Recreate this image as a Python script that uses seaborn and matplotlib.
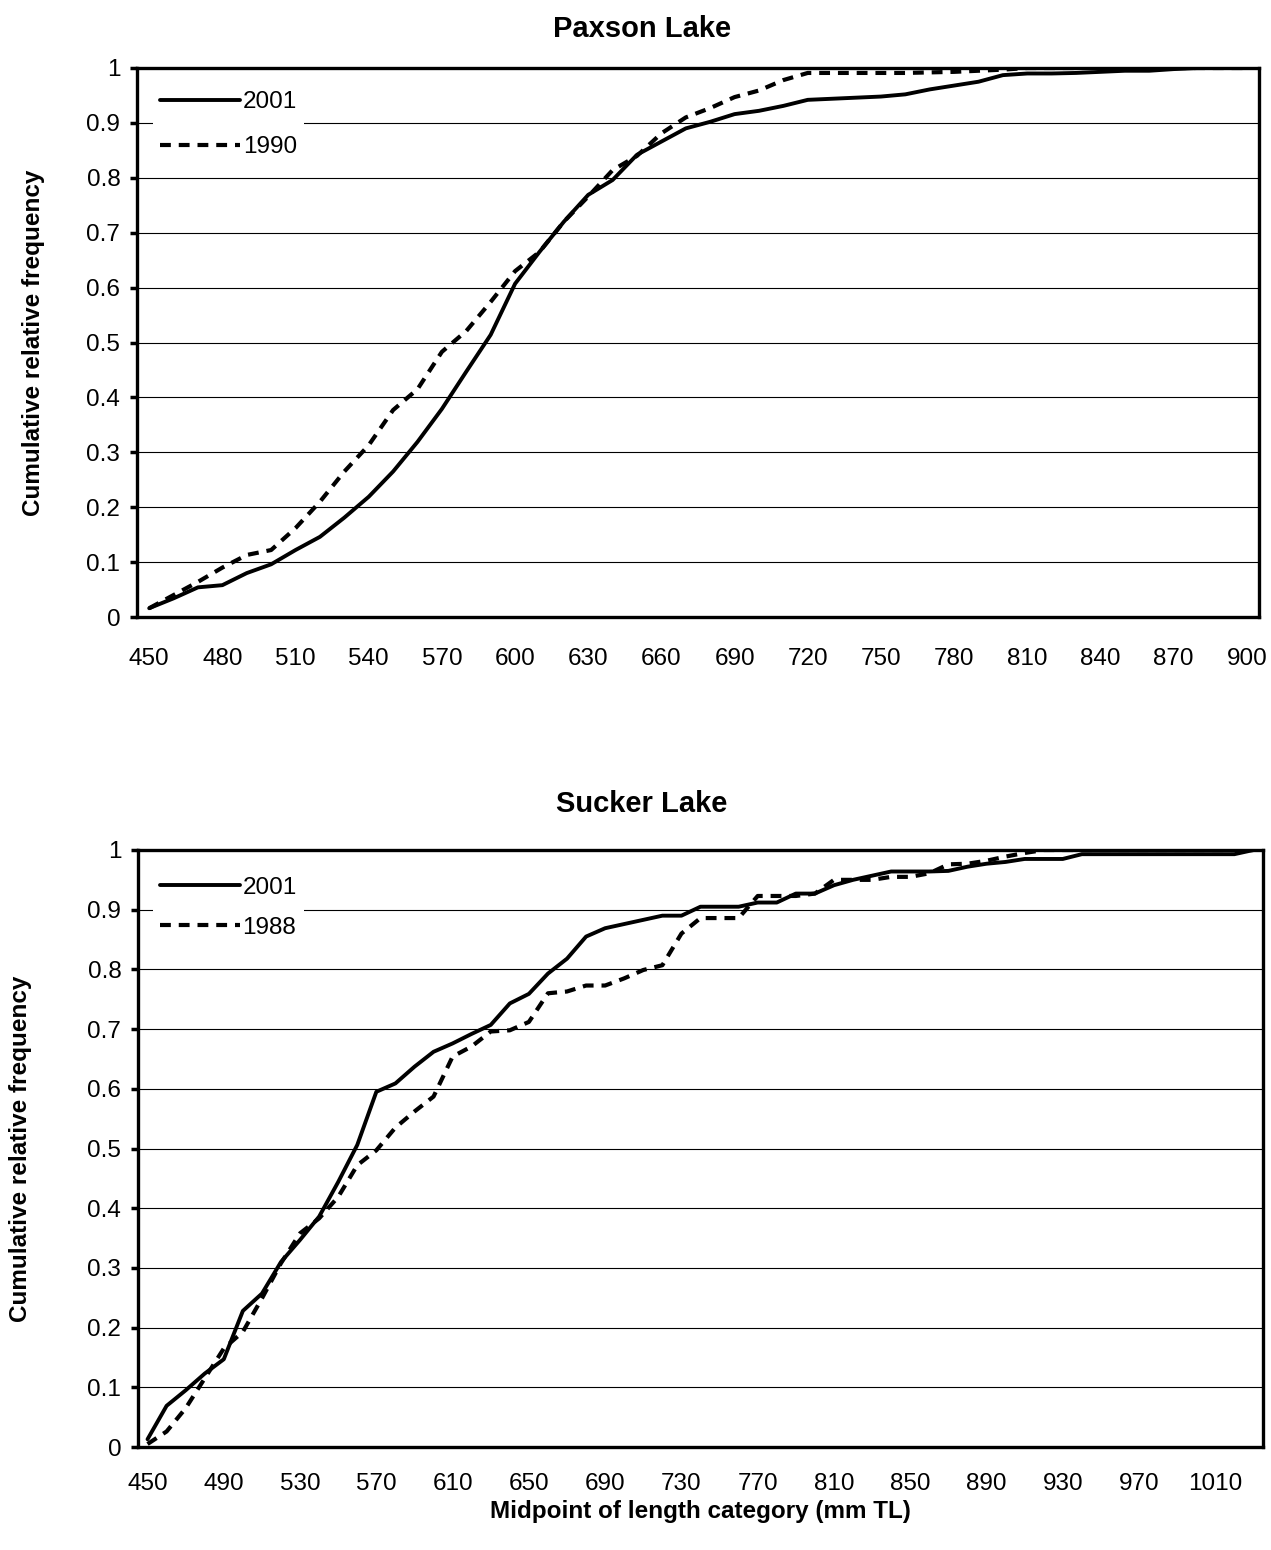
import numpy as np
import pandas as pd
import matplotlib
matplotlib.use("Agg")
import matplotlib.pyplot as plt
import seaborn as sns

# ---------------- data ----------------
paxson_lengths = list(range(450, 901, 10))   # 46 categories
paxson_2001 = [0.016, 0.034, 0.054, 0.058, 0.080, 0.096, 0.122, 0.146, 0.181, 0.219,
               0.265, 0.319, 0.379, 0.447, 0.514, 0.607, 0.665, 0.720, 0.769, 0.796,
               0.842, 0.866, 0.890, 0.902, 0.916, 0.922, 0.931, 0.942, 0.944, 0.946,
               0.948, 0.952, 0.961, 0.968, 0.975, 0.987, 0.990, 0.990, 0.991, 0.993,
               0.995, 0.995, 0.998, 1.000, 1.000, 1.000]
paxson_1990 = [0.016, 0.040, 0.064, 0.090, 0.113, 0.122, 0.162, 0.210, 0.265, 0.313,
               0.377, 0.415, 0.483, 0.521, 0.574, 0.630, 0.665, 0.720, 0.766, 0.814,
               0.840, 0.881, 0.910, 0.927, 0.947, 0.959, 0.978, 0.991, 0.991, 0.991,
               0.991, 0.991, 0.992, 0.993, 0.995, 0.997, 1.000, 1.000, 1.000, 1.000,
               1.000, 1.000, 1.000, 1.000, 1.000, 1.000]

sucker_lengths = list(range(450, 1031, 10))  # 59 categories
sucker_2001 = [0.013, 0.069, 0.095, 0.123, 0.147, 0.228, 0.257, 0.310, 0.347, 0.386,
               0.444, 0.506, 0.595, 0.609, 0.637, 0.662, 0.676, 0.692, 0.707, 0.743,
               0.759, 0.793, 0.818, 0.855, 0.869, 0.876, 0.883, 0.890, 0.890, 0.905,
               0.905, 0.905, 0.912, 0.912, 0.927, 0.927, 0.941, 0.950, 0.957, 0.964,
               0.964, 0.964, 0.965, 0.972, 0.977, 0.980, 0.985, 0.985, 0.985, 0.993,
               0.993, 0.993, 0.993, 0.993, 0.993, 0.993, 0.993, 0.993, 1.000]
sucker_1988 = [0.005, 0.026, 0.065, 0.115, 0.165, 0.193, 0.249, 0.308, 0.358, 0.383,
               0.419, 0.472, 0.497, 0.535, 0.562, 0.587, 0.654, 0.671, 0.696, 0.698,
               0.712, 0.760, 0.763, 0.773, 0.773, 0.785, 0.799, 0.807, 0.860, 0.886,
               0.886, 0.886, 0.923, 0.923, 0.923, 0.927, 0.950, 0.950, 0.950, 0.955,
               0.955, 0.961, 0.976, 0.977, 0.982, 0.989, 0.995, 1.000, 1.000, 1.000,
               1.000, 1.000, 1.000, 1.000, 1.000, 1.000, 1.000, 1.000, 1.000]

titles = ["Paxson Lake", "Sucker Lake"]
ylabel = "Cumulative relative frequency"
xlabel = "Midpoint of length category (mm TL)"

# ---------------- style ----------------
sns.set_style("white")
plt.rcParams['font.family'] = ['Liberation Sans', 'DejaVu Sans']
plt.rcParams['text.color'] = 'black'
plt.rcParams['axes.labelcolor'] = 'black'
plt.rcParams['xtick.color'] = 'black'
plt.rcParams['ytick.color'] = 'black'

W, H = 1271, 1550
fig = plt.figure(figsize=(W / 100, H / 100), dpi=100)

def fx(px):
    return px / W

def fy(py):
    return 1 - py / H

ax1 = fig.add_axes([fx(137), fy(617), fx(1259 - 137), (617 - 68) / H])
ax2 = fig.add_axes([fx(138), fy(1447), fx(1263 - 138), (1447 - 850) / H])

solid_lw = 2.8
dash_lw = 3.0
dash_style = (0, (2.6, 1.9))
TICK_FS = 17.5
LAB_FS = 17.5
TITLE_FS = 21
LEG_FS = 17.5

def draw(ax, lengths, s_new, s_old, old_label, step, title, title_pad, tick_pad,
         ylab_x, leg_spacing, leg_anchor, show_xlabel):
    n = len(lengths)
    idx = np.arange(n)
    df = pd.DataFrame({"idx": np.concatenate([idx, idx]),
                       "val": s_new + s_old,
                       "year": ["2001"] * n + [old_label] * n})
    sns.lineplot(data=df[df.year == "2001"], x="idx", y="val", ax=ax,
                 color="black", linewidth=solid_lw, label="2001")
    sns.lineplot(data=df[df.year == old_label], x="idx", y="val", ax=ax,
                 color="black", linewidth=dash_lw, linestyle=dash_style,
                 label=old_label)
    ax.set_xlim(-0.5, n - 0.5)
    ax.set_ylim(0, 1)
    ax.set_yticks(np.arange(0, 1.01, 0.1))
    ax.set_yticklabels(["0"] + [f"{v:.1f}" for v in np.arange(0.1, 0.95, 0.1)] + ["1"])
    ax.yaxis.grid(True, color="black", linewidth=0.8)
    ax.xaxis.grid(False)
    ax.set_axisbelow(True)
    major = idx[::step]
    ax.set_xticks(major)
    ax.set_xticklabels([str(lengths[i]) for i in major])
    ax.set_xticks(np.arange(-0.5, n, 1.0), minor=True)
    ax.tick_params(axis="x", which="major", length=0, pad=tick_pad, labelsize=TICK_FS,
                   labelcolor="black")
    ax.tick_params(axis="x", which="minor", length=5, width=2.5, direction="out",
                   color="black")
    ax.tick_params(axis="y", which="major", length=5, width=2.5, direction="out",
                   pad=7, labelsize=TICK_FS, color="black", labelcolor="black", left=True)
    for sp in ax.spines.values():
        sp.set_color("black")
        sp.set_linewidth(2.4)
        sp.set_visible(True)
    # title centred on the whole chart area (as in the original)
    x_title = (642 / W - ax.get_position().x0) / ax.get_position().width
    ax.set_title(title, fontsize=TITLE_FS, fontweight="bold", pad=title_pad, x=x_title,
                 color="black")
    ax.set_ylabel(ylabel, fontsize=LAB_FS, fontweight="bold", color="black")
    ax.yaxis.set_label_coords(ylab_x, 0.5)
    if show_xlabel:
        ax.set_xlabel(xlabel, fontsize=LAB_FS, fontweight="bold", labelpad=3,
                      color="black")
    else:
        ax.set_xlabel("")
    leg = ax.legend(loc="upper left", bbox_to_anchor=leg_anchor,
                    frameon=True, fontsize=LEG_FS, handlelength=3.3,
                    handletextpad=0.1, labelspacing=leg_spacing,
                    borderpad=0.3, borderaxespad=0)
    for t in leg.get_texts():
        t.set_color("black")
    leg.get_frame().set_facecolor("white")
    leg.get_frame().set_edgecolor("none")
    leg.get_frame().set_alpha(1)

draw(ax1, paxson_lengths, paxson_2001, paxson_1990, "1990", 3, titles[0],
     22, 22, -0.082, 0.94, (0.014, 0.971), False)
draw(ax2, sucker_lengths, sucker_2001, sucker_1988, "1988", 4, titles[1],
     27, 19, -0.094, 0.74, (0.013, 0.967), True)

fig.savefig("out.png", dpi=100, facecolor="white")
